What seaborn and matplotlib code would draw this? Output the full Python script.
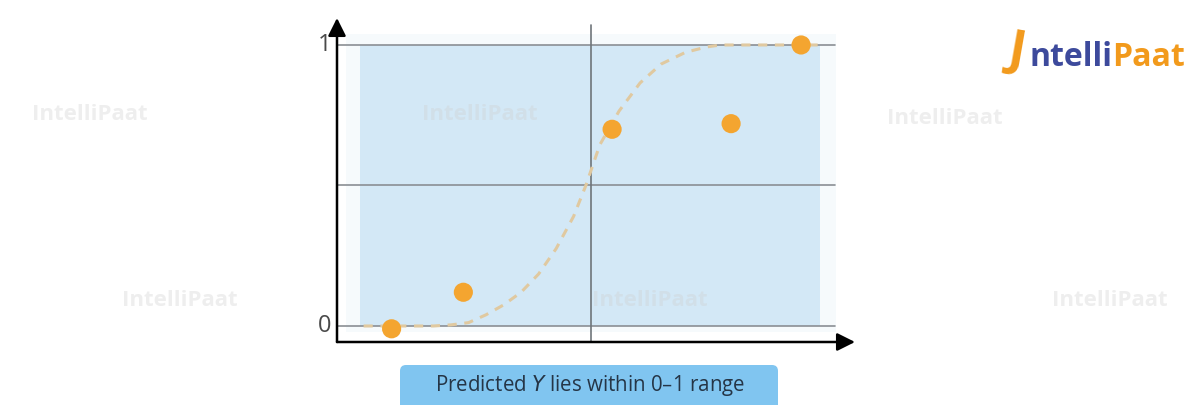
import numpy as np
import pandas as pd
import matplotlib
matplotlib.use("Agg")
import matplotlib.pyplot as plt
from matplotlib.patches import FancyBboxPatch, Rectangle
import seaborn as sns

# ---- data ----
point_x = [-5.7, -3.65, 0.6, 4.0, 6.0]
point_y = [-0.01, 0.12, 0.70, 0.72, 1.0]

curve_x = [-6.5, -5.5, -4.5, -4.0, -3.5, -3.0, -2.5, -2.0, -1.5, -1.0, -0.5, -0.15,
           0.25, 0.8, 1.4, 2.0, 2.7, 3.3, 3.7, 5.0, 6.5]
curve_y = [0.0, 0.0, 0.0, 0.004, 0.012, 0.04, 0.075, 0.12, 0.185, 0.275, 0.39, 0.50,
           0.645, 0.765, 0.865, 0.932, 0.974, 0.993, 1.0, 1.0, 1.0]

ytick_vals = [0, 1]
ytick_labels = ["0", "1"]
caption = "Predicted $\\mathit{Y}$ lies within 0\u20131 range"

sns.set_theme(style="white")
plt.rcParams["font.family"] = ["Open Sans", "DejaVu Sans"]

W, H = 1198, 405
fig = plt.figure(figsize=(W / 100, H / 100), dpi=100)
fig.patch.set_facecolor("white")

# axes box in pixels: left 337, right 855, top 18, bottom 342
L, R, T, B = 337, 855, 18, 342
ax = fig.add_axes([L / W, 1 - B / H, (R - L) / W, (B - T) / H])
ax.set_xlim(-7.26, 7.54)
ax.set_ylim(-0.057, 1.096)
for s in ax.spines.values():
    s.set_visible(False)
ax.set_facecolor("none")
ax.set_xticks([])
ax.set_yticks([])

# pale outer panel and blue panel
ax.add_patch(Rectangle((-7.0, -0.02), 14.0, 1.06, facecolor="#f6fafc", edgecolor="none", zorder=0))
ax.add_patch(Rectangle((-6.6, 0.0), 13.14, 1.0, facecolor="#d3e8f6", edgecolor="none", zorder=1))

# grid lines
for yv in [0, 0.5, 1]:
    ax.plot([-7.26, 6.97], [yv, yv], color="#8a8f94", lw=1.2, zorder=2)
ax.plot([0, 0], [-0.057, 1.07], color="#6f757a", lw=1.2, zorder=2)

# axes arrows
ax.annotate("", xy=(0, 1.0), xytext=(0, 0), xycoords="axes fraction",
            arrowprops=dict(arrowstyle="-|>,head_length=0.9,head_width=0.45", color="black", lw=1.8,
                            shrinkA=0, shrinkB=0), zorder=5)
ax.annotate("", xy=(1.0, 0), xytext=(0, 0), xycoords="axes fraction",
            arrowprops=dict(arrowstyle="-|>,head_length=0.9,head_width=0.45", color="black", lw=1.8,
                            shrinkA=0, shrinkB=0), zorder=5)

# sigmoid curve
df_curve = pd.DataFrame({"x": curve_x, "y": curve_y})
sns.lineplot(data=df_curve, x="x", y="y", ax=ax, color="#e0c9a0", lw=2.2,
             linestyle=(0, (3, 2.5)), zorder=3, sort=True)

# points
df_pts = pd.DataFrame({"x": point_x, "y": point_y})
sns.scatterplot(data=df_pts, x="x", y="y", ax=ax, color="#f4a530", s=190,
                edgecolor="none", zorder=4)
ax.set_xlabel("")
ax.set_ylabel("")

# y tick labels
for v, lab in zip(ytick_vals, ytick_labels):
    ax.text(-7.42, v, lab, ha="right", va="center", fontsize=17, color="#4a4a4a")

# caption box
cap_ax = fig.add_axes([0, 0, 1, 1], facecolor="none")
cap_ax.set_xlim(0, W)
cap_ax.set_ylim(H, 0)
cap_ax.axis("off")
cap_ax.add_patch(FancyBboxPatch((400, 365), 378, 46, boxstyle="round,pad=0,rounding_size=6",
                                facecolor="#80c5f0", edgecolor="none"))
cap_ax.text(590, 385, caption, ha="center", va="center", fontsize=14.8, color="#253546")

# logo
cap_ax.text(1030, 58, "ntelli", ha="left", va="center", fontsize=23, fontweight="bold",
            color="#3d4a9c", family=["Open Sans", "DejaVu Sans"])
cap_ax.text(1112, 58, "Paat", ha="left", va="center", fontsize=23, fontweight="bold",
            color="#f29a1c", family=["Open Sans", "DejaVu Sans"])
cap_ax.text(1004, 52, "J", ha="left", va="center", fontsize=36, fontweight="bold",
            color="#f29a1c", rotation=-10)

# faint watermarks
for (wx, wy) in [(90, 115), (480, 115), (945, 118), (180, 300), (650, 300), (1110, 300)]:
    cap_ax.text(wx, wy, "IntelliPaat", ha="center", va="center", fontsize=16,
                fontweight="bold", color="#cfcfcf", alpha=0.35)

fig.savefig("out.png", dpi=100)
